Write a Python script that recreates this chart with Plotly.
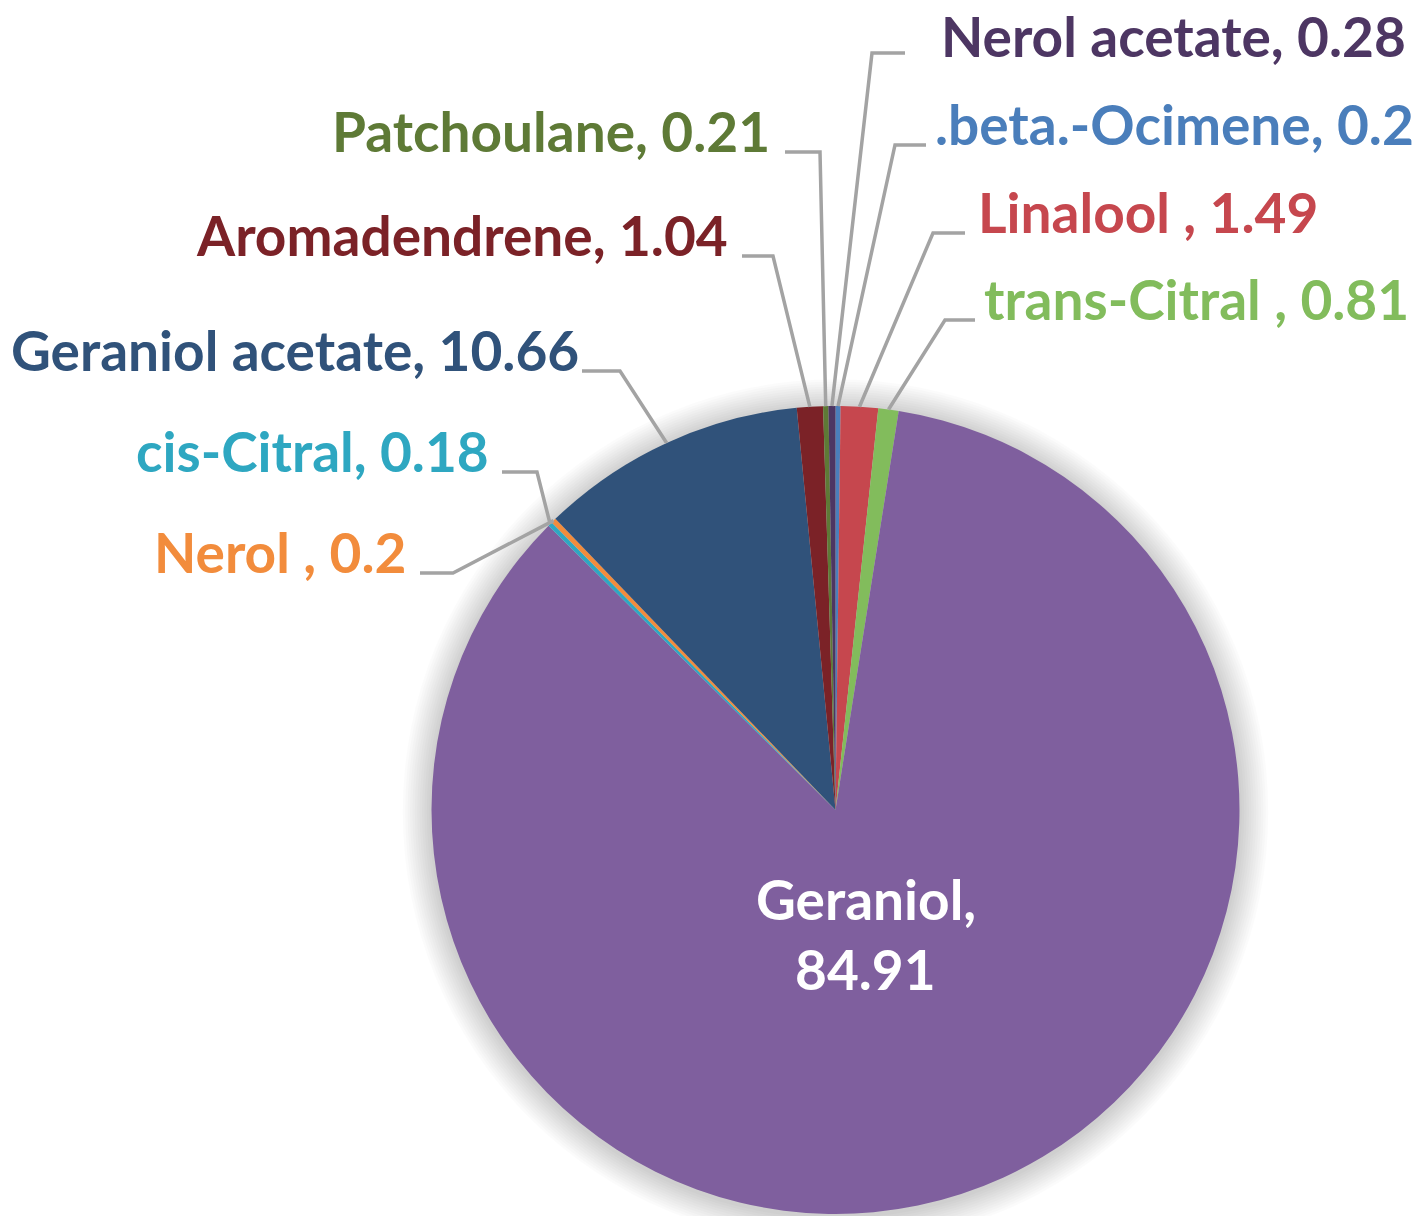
import math
import plotly.graph_objects as go

# ---- data (clockwise from 12 o'clock) ----
labels = [".beta.-Ocimene", "Linalool ", "trans-Citral ", "Geraniol", "cis-Citral",
          "Nerol ", "Geraniol acetate", "Aromadendrene", "Patchoulane", "Nerol acetate"]
values = [0.2, 1.49, 0.81, 84.91, 0.18, 0.2, 10.66, 1.04, 0.21, 0.28]
value_text = ["0.2", "1.49", "0.81", "84.91", "0.18", "0.2", "10.66", "1.04", "0.21", "0.28"]
colors = ["#4A7EBB", "#C6474E", "#82BC5C", "#7F5F9E", "#2EA7C1",
          "#F28C3C", "#30527A", "#7B2227", "#5E7A36", "#4D3663"]

# ---- layout constants (screen pixels) ----
W, H = 1424, 1216
OFF = 8  # page body margin
CX, CY, R = 835.5, 810.0, 404.0
FONT = "Lato"
FS = 55

# label placement: side, text edge x, text baseline y, line y, elbow outer x, elbow inner x
label_layout = {
    ".beta.-Ocimene":   ("right", 934, 146, 145, 926, 895),
    "Linalool ":        ("right", 977, 234, 233, 965, 933),
    "trans-Citral ":    ("right", 983, 321, 320, 975, 945),
    "cis-Citral":       ("left", 490, 473, 472, 502, 537),
    "Nerol ":           ("left", 407, 574, 573, 420, 453),
    "Geraniol acetate": ("left", 580, 372, 371, 582, 620),
    "Aromadendrene":    ("left", 729, 257, 256, 742, 773),
    "Patchoulane":      ("left", 771, 153, 152, 785, 820),
    "Nerol acetate":    ("right", 940, 58, 53, 905, 872),
}

def px(x):
    return (x - OFF) / W

def py(y):
    return 1 - (y - OFF) / H

fig = go.Figure()

# soft shadow around the pie
shapes = []
for i in range(12, 0, -1):
    rr = R + i * 2.4
    shapes.append(dict(type="circle", xref="paper", yref="paper",
                       x0=px(CX - rr), x1=px(CX + rr), y0=py(CY + rr + 2), y1=py(CY - rr + 2),
                       fillcolor="rgba(0,0,0,0.017)", line=dict(width=0), layer="below"))

fig.add_trace(go.Pie(
    labels=labels, values=values, sort=False, direction="clockwise", rotation=0,
    marker=dict(colors=colors, line=dict(width=0)),
    textinfo="none", hoverinfo="label+value", showlegend=False,
    domain=dict(x=[px(CX - R), px(CX + R)], y=[py(CY + R), py(CY - R)]),
))

annotations = []
total = sum(values)
cum = 0.0
for lab, val, vt, col in zip(labels, values, value_text, colors):
    mid = (cum + val / 2) / total * 2 * math.pi
    cum += val
    ex = CX + R * math.sin(mid)
    ey = CY - R * math.cos(mid)
    if lab == "Geraniol":
        annotations.append(dict(x=px(866), y=py(920 - 21), xref="paper", yref="paper",
                                text="Geraniol,", showarrow=False, xanchor="center", yanchor="middle",
                                font=dict(family=FONT, size=FS, color="white", weight="bold")))
        annotations.append(dict(x=px(866), y=py(990 - 21), xref="paper", yref="paper",
                                text=vt, showarrow=False, xanchor="center", yanchor="middle",
                                font=dict(family=FONT, size=FS, color="white", weight="bold")))
        continue
    side, tx, by, ly, ox, ix = label_layout[lab]
    annotations.append(dict(x=px(tx), y=py(by - 22), xref="paper", yref="paper",
                            text=f"{lab}, {vt}", showarrow=False, borderpad=0,
                            xanchor="left" if side == "right" else "right", yanchor="middle",
                            font=dict(family=FONT, size=FS, color=col, weight="bold")))
    path = f"M {px(ox)} {py(ly)} L {px(ix)} {py(ly)} L {px(ex)} {py(ey)}"
    shapes.append(dict(type="path", xref="paper", yref="paper", path=path,
                       line=dict(color="#A3A3A3", width=3.5), layer="above"))

fig.update_layout(
    width=W, height=H, margin=dict(l=0, r=0, t=0, b=0),
    paper_bgcolor="white", plot_bgcolor="white",
    shapes=shapes, annotations=annotations,
)

fig.write_html("out.html")
